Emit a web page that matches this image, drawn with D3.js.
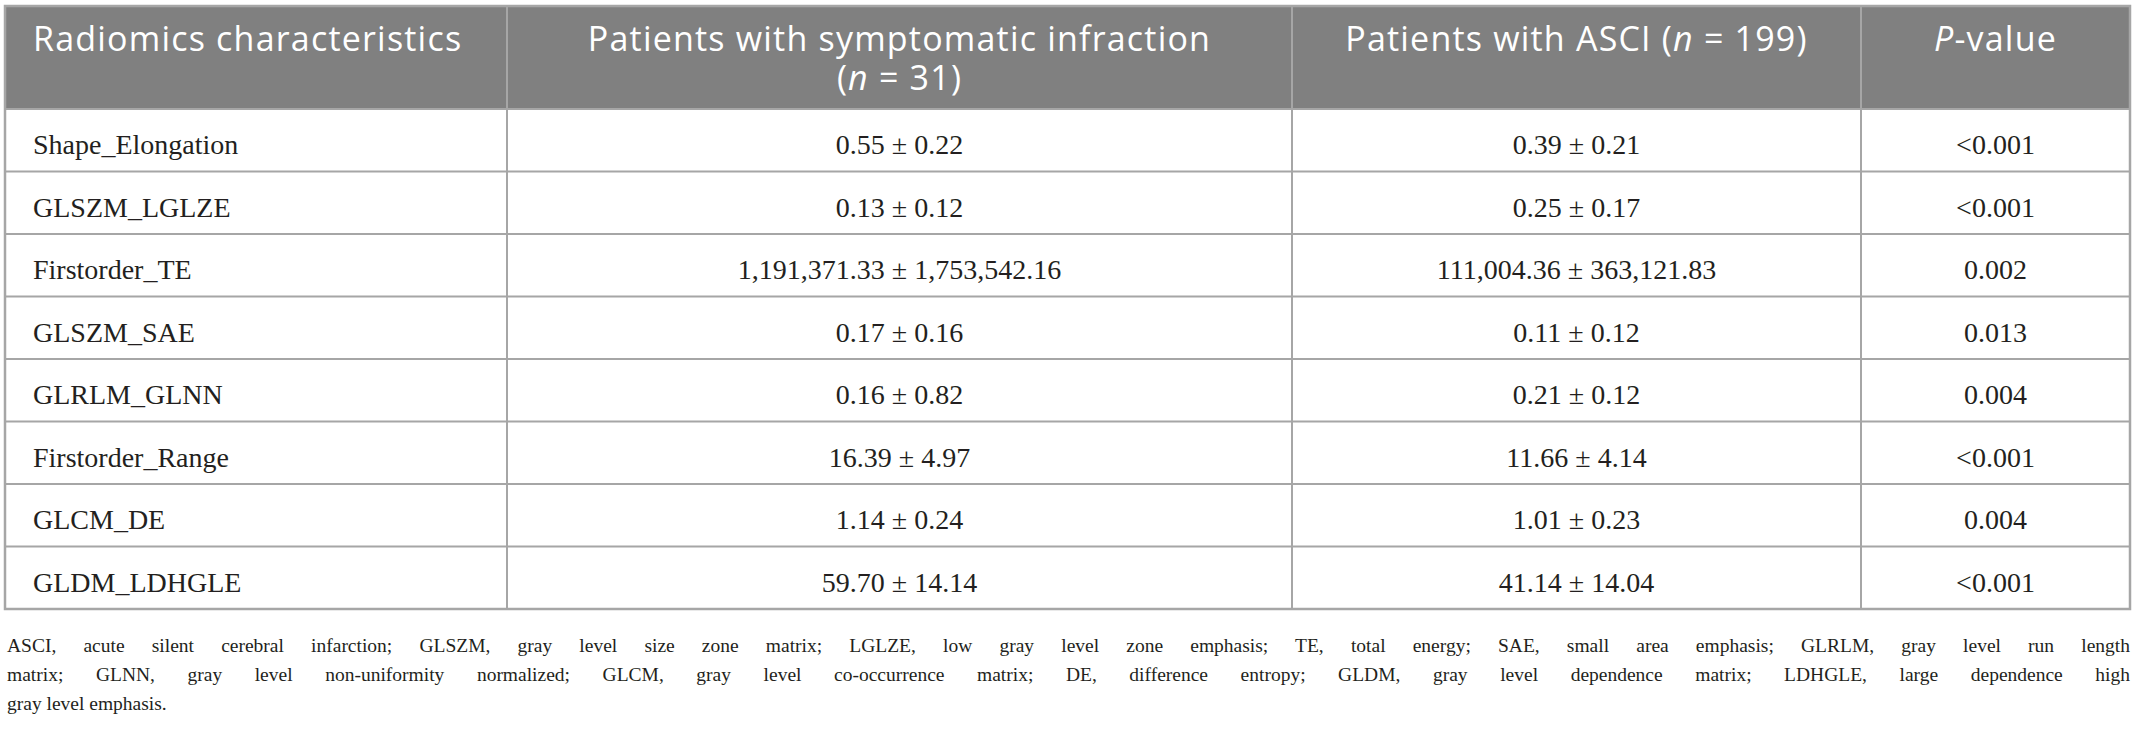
<!DOCTYPE html>
<html>
<head>
<meta charset="utf-8">
<script src="https://cdn.jsdelivr.net/npm/d3@7"></script>
<style>
  body { margin: 0; background: #fff; }
  svg { display: block; }
</style>
</head>
<body>
<svg id="chart"></svg>
<script>
// table content
var features = ["Shape_Elongation", "GLSZM_LGLZE", "Firstorder_TE", "GLSZM_SAE",
  "GLRLM_GLNN", "Firstorder_Range", "GLCM_DE", "GLDM_LDHGLE"];
var symptMean = [0.55, 0.13, 1191371.33, 0.17, 0.16, 16.39, 1.14, 59.70];
var symptSd   = [0.22, 0.12, 1753542.16, 0.16, 0.82, 4.97, 0.24, 14.14];
var asciMean  = [0.39, 0.25, 111004.36, 0.11, 0.21, 11.66, 1.01, 41.14];
var asciSd    = [0.21, 0.17, 363121.83, 0.12, 0.12, 4.14, 0.23, 14.04];
var pValues   = ["<0.001", "<0.001", "0.002", "0.013", "0.004", "<0.001", "0.004", "<0.001"];

var footLines = [
  "ASCI, acute silent cerebral infarction; GLSZM, gray level size zone matrix; LGLZE, low gray level zone emphasis; TE, total energy; SAE, small area emphasis; GLRLM, gray level run length",
  "matrix; GLNN, gray level non-uniformity normalized; GLCM, gray level co-occurrence matrix; DE, difference entropy; GLDM, gray level dependence matrix; LDHGLE, large dependence high",
  "gray level emphasis."
];

var W = 2137, H = 736;
// note: "top" clashes with window.top, so tableTop
var tblLeft = 5, tblRight = 2130, tableTop = 6, headH = 103, rowH = 62.5;
var colEdges = [tblLeft, 507, 1292, 1861, tblRight];
var lineColor = "#a6a6a6", headColor = "#808080", ink = "#231f20";
var serif = "'Liberation Serif', 'Times New Roman', serif";
var sans = "'Open Sans', Lato, sans-serif";

var fmt = d3.format(",.2f");

var svg = d3.select("#chart").attr("width", W).attr("height", H);

// row positions
var y = d3.scaleBand()
  .domain(features)
  .range([tableTop + headH, tableTop + headH + rowH * features.length]);

var tblBottom = y.range()[1];

function mid(i) { return (colEdges[i] + colEdges[i + 1]) / 2; }

// header block
svg.append("rect")
  .attr("x", tblLeft).attr("y", tableTop)
  .attr("width", tblRight - tblLeft).attr("height", headH)
  .attr("fill", headColor);

// header text
var head = svg.append("g")
  .attr("fill", "#fff")
  .attr("font-family", sans)
  .attr("font-size", "34px")
  .attr("letter-spacing", "1.2px");

head.append("text")
  .attr("x", 33).attr("y", tableTop + 45)
  .text("Radiomics characteristics");

head.append("text")
  .attr("text-anchor", "middle")
  .attr("x", mid(1)).attr("y", tableTop + 45)
  .text("Patients with symptomatic infraction");

// second header line: pieces laid side by side, centred as a group
var parts = [{ t: "(", it: false }, { t: "n", it: true }, { t: " = 31)", it: false }];
var pieces = head.selectAll(".npart")
  .data(parts)
  .enter()
  .append("text")
  .attr("class", "npart")
  .attr("y", tableTop + 84)
  .attr("font-style", function(d) { return d.it ? "italic" : null; })
  .attr("xml:space", "preserve")
  .style("white-space", "pre")
  .text(function(d) { return d.t; });
var widths = [];
pieces.each(function() { widths.push(this.getComputedTextLength()); });
var x0 = mid(1) - d3.sum(widths) / 2;
pieces.attr("x", function(d, i) { return x0 + d3.sum(widths.slice(0, i)); });

var h3 = head.append("text")
  .attr("text-anchor", "middle")
  .attr("x", mid(2)).attr("y", tableTop + 45);
h3.append("tspan").text("Patients with ASCI (");
h3.append("tspan").attr("font-style", "italic").text("n");
h3.append("tspan").text(" = 199)");

var h4 = head.append("text")
  .attr("text-anchor", "middle")
  .attr("x", mid(3)).attr("y", tableTop + 45);
h4.append("tspan").attr("font-style", "italic").text("P");
h4.append("tspan").text("-value");

// body rows
var rows = svg.selectAll(".row")
  .data(features)
  .enter()
  .append("g")
  .attr("class", "row")
  .attr("transform", function(d) { return "translate(0," + y(d) + ")"; })
  .attr("font-family", serif)
  .attr("font-size", "28px")
  .attr("fill", ink);

rows.append("text")
  .attr("x", 33).attr("y", 45)
  .text(function(d) { return d; });

rows.append("text")
  .attr("x", mid(1)).attr("y", 45)
  .attr("text-anchor", "middle")
  .text(function(d, i) { return fmt(symptMean[i]) + " \u00b1 " + fmt(symptSd[i]); });

rows.append("text")
  .attr("x", mid(2)).attr("y", 45)
  .attr("text-anchor", "middle")
  .text(function(d, i) { return fmt(asciMean[i]) + " \u00b1 " + fmt(asciSd[i]); });

rows.append("text")
  .attr("x", mid(3)).attr("y", 45)
  .attr("text-anchor", "middle")
  .text(function(d, i) { return pValues[i]; });

// grid lines
var grid = svg.append("g")
  .attr("stroke", lineColor)
  .attr("stroke-width", 2)
  .attr("fill", "none");

grid.selectAll(".hline")
  .data(features.slice(1))
  .enter()
  .append("line")
  .attr("x1", tblLeft).attr("x2", tblRight)
  .attr("y1", function(d) { return y(d); })
  .attr("y2", function(d) { return y(d); });

grid.selectAll(".vline")
  .data(colEdges.slice(1, -1))
  .enter()
  .append("line")
  .attr("x1", function(d) { return d; })
  .attr("x2", function(d) { return d; })
  .attr("y1", tableTop).attr("y2", tblBottom);

grid.append("line")
  .attr("x1", tblLeft).attr("x2", tblRight)
  .attr("y1", tableTop + headH).attr("y2", tableTop + headH);

grid.append("rect")
  .attr("x", tblLeft).attr("y", tableTop)
  .attr("width", tblRight - tblLeft).attr("height", tblBottom - tableTop)
  .attr("stroke-width", 2.5);

// footnote, justified line by line
var foot = svg.append("g")
  .attr("font-family", serif)
  .attr("font-size", "19.5px")
  .attr("fill", ink);

footLines.forEach(function(line, li) {
  var t = foot.append("text")
    .attr("x", 7)
    .attr("y", tblBottom + 43 + li * 29)
    .text(line);
  if (li < footLines.length - 1) {
    var words = line.split(" ");
    var natural = t.node().getComputedTextLength();
    var extra = (tblRight - 7 - natural) / (words.length - 1);
    t.attr("word-spacing", extra + "px");
  }
});
</script>
</body>
</html>
